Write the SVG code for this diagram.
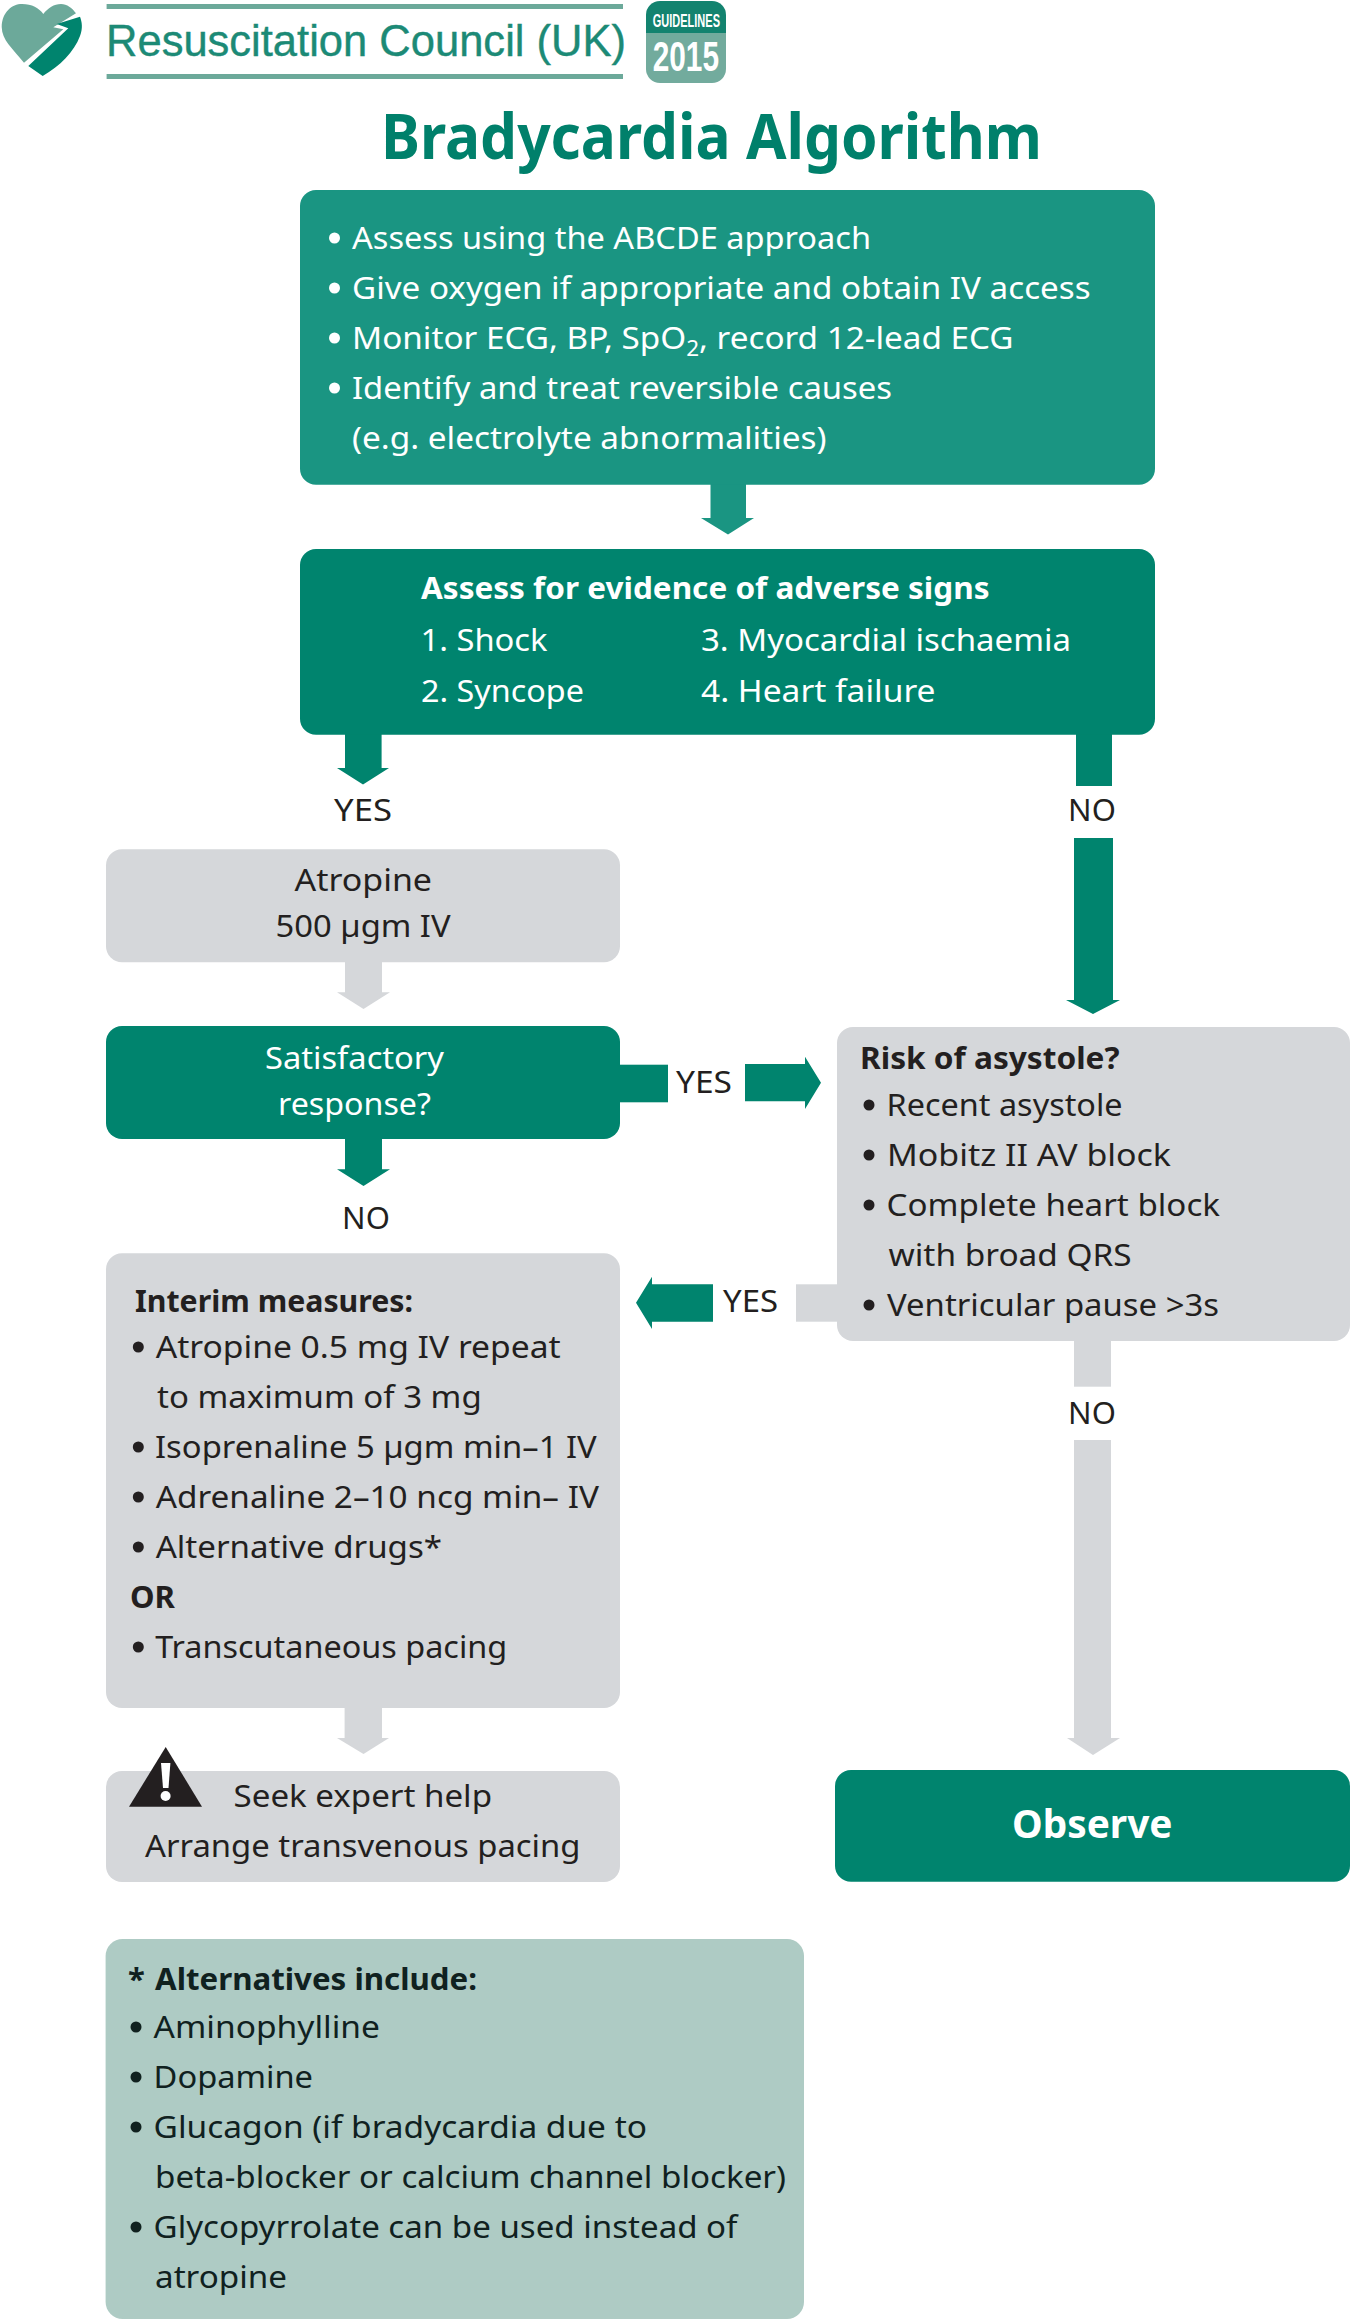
<svg xmlns="http://www.w3.org/2000/svg" width="1350" height="2320" viewBox="0 0 1350 2320">
<style>
text{font-family:"Noto Sans","Open Sans",sans-serif;font-size:31px;fill:#231f20}
text.w{fill:#fff}
text.b{font-weight:700}
text.alt{fill:#10211f}
circle.dw{fill:#fff}
circle.dk{fill:#231f20}
circle.da{fill:#10211f}
.t1{fill:#1a9582}.t2{fill:#00846e}.gr{fill:#d5d7da}.al{fill:#aecbc4}
</style>
<rect width="1350" height="2320" fill="#fff"/>
<g id="logo">
<path d="M24 62.7C12 48 2 40 1.7 27C2 12 12 4 22 4C32 4 39 8 43.3 14C48 8 54 4 61 4C67 4 72 8 76 13.3L53.3 27.3L63.3 29.3Z" fill="#6ca99a"/>
<path d="M80 16.7L56.7 24L68.3 28.3L28.3 66L42.7 76C60 66 74 52 80 36C83 28 82 22 80 16.7Z" fill="#00846e"/>
<rect x="106.6" y="4" width="516.4" height="5" fill="#6ca99a"/>
<rect x="106.6" y="74" width="516.4" height="5" fill="#6ca99a"/>
<text x="106" y="56" style="font-family:'Liberation Sans',Arial,sans-serif;font-size:44px;fill:#1c8a76;stroke:#1c8a76;stroke-width:.4" textLength="520" lengthAdjust="spacingAndGlyphs">Resuscitation Council (UK)</text>
</g>
<g id="badge">
<path d="M660 1H712A14 14 0 0 1 726 15V33H646V15A14 14 0 0 1 660 1Z" fill="#13836f"/>
<path d="M646 33H726V69A14 14 0 0 1 712 83H660A14 14 0 0 1 646 69Z" fill="#72ab9d"/>
<text class="w" x="652.7" y="26.7" style="font-family:'Liberation Sans',Arial,sans-serif;font-size:17.5px;font-weight:700" textLength="67.3" lengthAdjust="spacingAndGlyphs">GUIDELINES</text>
<text class="w" x="652.7" y="70.7" style="font-family:'Liberation Sans',Arial,sans-serif;font-size:42px;font-weight:700" textLength="66.3" lengthAdjust="spacingAndGlyphs">2015</text>
</g>
<g id="title">
<text class="b" x="381" y="159" style="font-size:62px;fill:#00806b" textLength="661" lengthAdjust="spacingAndGlyphs">Bradycardia Algorithm</text>
</g>
<g id="connectors">
<polygon class="t1" points="710.5,484 746,484 746,518 754,518 728,534.5 701,518 710.5,518"/>
<polygon class="t2" points="345,734 381.6,734 381.6,768 389,768 363,784.5 337,768 345,768"/>
<rect class="t2" x="1076" y="734" width="36" height="52"/>
<text x="363" y="820.5" text-anchor="middle" textLength="58" lengthAdjust="spacingAndGlyphs">YES</text>
<text x="1092" y="820.5" text-anchor="middle">NO</text>
<polygon class="t2" points="1074,838 1113,838 1113,1000 1120,1000 1093,1014 1066,1000 1074,1000"/>
<polygon class="gr" points="345,962 382,962 382,992.3 390,992.3 363.5,1009 337,992.3 345,992.3"/>
<rect class="t2" x="620" y="1064.7" width="48" height="37.6"/>
<text x="676" y="1093.3" textLength="56" lengthAdjust="spacingAndGlyphs">YES</text>
<polygon class="t2" points="745,1064 805,1064 805,1056.7 821,1082.7 805,1109 805,1101.3 745,1101.3"/>
<polygon class="t2" points="345,1139 382,1139 382,1169.3 390,1169.3 363.5,1186 337,1169.3 345,1169.3"/>
<text x="366" y="1229" text-anchor="middle">NO</text>
<rect class="gr" x="796" y="1284.3" width="42" height="37.4"/>
<text x="723" y="1311.7" textLength="55" lengthAdjust="spacingAndGlyphs">YES</text>
<polygon class="t2" points="713,1284.3 652,1284.3 652,1276.7 636,1302.7 652,1329 652,1321.7 713,1321.7"/>
<rect class="gr" x="1074" y="1341" width="37" height="45.7"/>
<text x="1092" y="1424" text-anchor="middle">NO</text>
<polygon class="gr" points="1074,1440 1111,1440 1111,1738 1120,1738 1093,1755 1067,1738 1074,1738"/>
<polygon class="gr" points="344.6,1708 382,1708 382,1738 389,1738 363.5,1754 337,1738 344.6,1738"/>
</g>
<g id="node-assess">
<rect class="t1" x="300" y="190" width="855" height="294.7" rx="16"/>
<circle class="dw" cx="334.5" cy="238" r="5.5"/>
<text class="w" x="352" y="249" textLength="519" lengthAdjust="spacingAndGlyphs">Assess using the ABCDE approach</text>
<circle class="dw" cx="334.5" cy="288" r="5.5"/>
<text class="w" x="352" y="299" textLength="738.6" lengthAdjust="spacingAndGlyphs">Give oxygen if appropriate and obtain IV access</text>
<circle class="dw" cx="334.5" cy="338" r="5.5"/>
<text class="w" x="352" y="349" textLength="661.6" lengthAdjust="spacingAndGlyphs">Monitor ECG, BP, SpO<tspan dy="7" style="font-size:21px">2</tspan><tspan dy="-7">, record 12-lead ECG</tspan></text>
<circle class="dw" cx="334.5" cy="388" r="5.5"/>
<text class="w" x="352" y="398.5" textLength="540" lengthAdjust="spacingAndGlyphs">Identify and treat reversible causes</text>
<text class="w" x="352" y="448.7" textLength="474.5" lengthAdjust="spacingAndGlyphs">(e.g. electrolyte abnormalities)</text>
</g>
<g id="node-adverse">
<rect class="t2" x="300" y="549" width="855" height="185.7" rx="16"/>
<text class="w b" x="421" y="598.7" textLength="568.5" lengthAdjust="spacingAndGlyphs">Assess for evidence of adverse signs</text>
<text class="w" x="420.5" y="650.5" textLength="127" lengthAdjust="spacingAndGlyphs">1. Shock</text>
<text class="w" x="701" y="650.5" textLength="370" lengthAdjust="spacingAndGlyphs">3. Myocardial ischaemia</text>
<text class="w" x="421" y="701.5" textLength="163" lengthAdjust="spacingAndGlyphs">2. Syncope</text>
<text class="w" x="701" y="701.5" textLength="234.5" lengthAdjust="spacingAndGlyphs">4. Heart failure</text>
</g>
<g id="node-atropine">
<rect class="gr" x="106" y="849.3" width="514" height="113" rx="16"/>
<text x="294.5" y="891" textLength="137.5" lengthAdjust="spacingAndGlyphs">Atropine</text>
<text x="275.6" y="936.7" textLength="175" lengthAdjust="spacingAndGlyphs">500 µgm IV</text>
</g>
<g id="node-response">
<rect class="t2" x="106" y="1026" width="514" height="113" rx="16"/>
<text class="w" x="265" y="1069" textLength="179" lengthAdjust="spacingAndGlyphs">Satisfactory</text>
<text class="w" x="278" y="1115" textLength="153" lengthAdjust="spacingAndGlyphs">response?</text>
</g>
<g id="node-risk">
<rect class="gr" x="837" y="1027" width="513" height="314" rx="16"/>
<text class="b" x="860" y="1069" textLength="259.5" lengthAdjust="spacingAndGlyphs">Risk of asystole?</text>
<circle class="dk" cx="869" cy="1105" r="5.5"/>
<text x="886.6" y="1116" textLength="236" lengthAdjust="spacingAndGlyphs">Recent asystole</text>
<circle class="dk" cx="869" cy="1155" r="5.5"/>
<text x="887" y="1165.7" textLength="284" lengthAdjust="spacingAndGlyphs">Mobitz II AV block</text>
<circle class="dk" cx="869" cy="1205" r="5.5"/>
<text x="886.6" y="1215.7" textLength="333.4" lengthAdjust="spacingAndGlyphs">Complete heart block</text>
<text x="888.5" y="1265.7" textLength="243.2" lengthAdjust="spacingAndGlyphs">with broad QRS</text>
<circle class="dk" cx="869" cy="1305" r="5.5"/>
<text x="887" y="1315.7" textLength="332" lengthAdjust="spacingAndGlyphs">Ventricular pause &gt;3s</text>
</g>
<g id="node-interim">
<rect class="gr" x="106" y="1253.3" width="514" height="454.7" rx="16"/>
<text class="b" x="135" y="1312.3" textLength="278" lengthAdjust="spacingAndGlyphs">Interim measures:</text>
<circle class="dk" cx="138.3" cy="1347" r="5.5"/>
<text x="155.7" y="1358.3" textLength="405" lengthAdjust="spacingAndGlyphs">Atropine 0.5 mg IV repeat</text>
<text x="157" y="1408" textLength="324.7" lengthAdjust="spacingAndGlyphs">to maximum of 3 mg</text>
<circle class="dk" cx="138.3" cy="1447" r="5.5"/>
<text x="155" y="1458" textLength="441.7" lengthAdjust="spacingAndGlyphs">Isoprenaline 5 µgm min–1 IV</text>
<circle class="dk" cx="138.3" cy="1497" r="5.5"/>
<text x="155.7" y="1508" textLength="443.3" lengthAdjust="spacingAndGlyphs">Adrenaline 2–10 ncg min– IV</text>
<circle class="dk" cx="138.3" cy="1547" r="5.5"/>
<text x="155.7" y="1558" textLength="286.3" lengthAdjust="spacingAndGlyphs">Alternative drugs*</text>
<text class="b" x="130" y="1608" textLength="45" lengthAdjust="spacingAndGlyphs">OR</text>
<circle class="dk" cx="138.3" cy="1647" r="5.5"/>
<text x="155.2" y="1658" textLength="352" lengthAdjust="spacingAndGlyphs">Transcutaneous pacing</text>
</g>
<g id="node-expert">
<rect class="gr" x="106" y="1771" width="514" height="111" rx="16"/>
<polygon points="165.7,1747 202,1806.7 129,1806.7" fill="#231f20"/>
<path d="M161 1763H170.4L168.5 1788H163Z" fill="#fff"/>
<circle cx="165.6" cy="1796" r="5" fill="#fff"/>
<text x="233.6" y="1806.7" textLength="258.4" lengthAdjust="spacingAndGlyphs">Seek expert help</text>
<text x="145" y="1856.7" textLength="435.5" lengthAdjust="spacingAndGlyphs">Arrange transvenous pacing</text>
</g>
<g id="node-observe">
<rect class="t2" x="835" y="1770" width="515" height="111.7" rx="16"/>
<text class="w b" x="1012" y="1838" style="font-size:40px" textLength="160.5" lengthAdjust="spacingAndGlyphs">Observe</text>
</g>
<g id="node-alternatives">
<rect class="al" x="105.6" y="1939" width="698.4" height="380" rx="17"/>
<text class="alt b" x="128" y="1990">*</text>
<text class="alt b" x="155" y="1990" textLength="322" lengthAdjust="spacingAndGlyphs">Alternatives include:</text>
<circle class="da" cx="136" cy="2027" r="5.5"/>
<text class="alt" x="153.6" y="2037.7" textLength="226.4" lengthAdjust="spacingAndGlyphs">Aminophylline</text>
<circle class="da" cx="136" cy="2077" r="5.5"/>
<text class="alt" x="153.6" y="2087.7" textLength="159.4" lengthAdjust="spacingAndGlyphs">Dopamine</text>
<circle class="da" cx="136" cy="2127" r="5.5"/>
<text class="alt" x="153.6" y="2137.7" textLength="493.4" lengthAdjust="spacingAndGlyphs">Glucagon (if bradycardia due to</text>
<text class="alt" x="155" y="2187.7" textLength="631" lengthAdjust="spacingAndGlyphs">beta-blocker or calcium channel blocker)</text>
<circle class="da" cx="136" cy="2227" r="5.5"/>
<text class="alt" x="153.6" y="2237.7" textLength="583.9" lengthAdjust="spacingAndGlyphs">Glycopyrrolate can be used instead of</text>
<text class="alt" x="155" y="2287.7" textLength="132" lengthAdjust="spacingAndGlyphs">atropine</text>
</g>
</svg>
